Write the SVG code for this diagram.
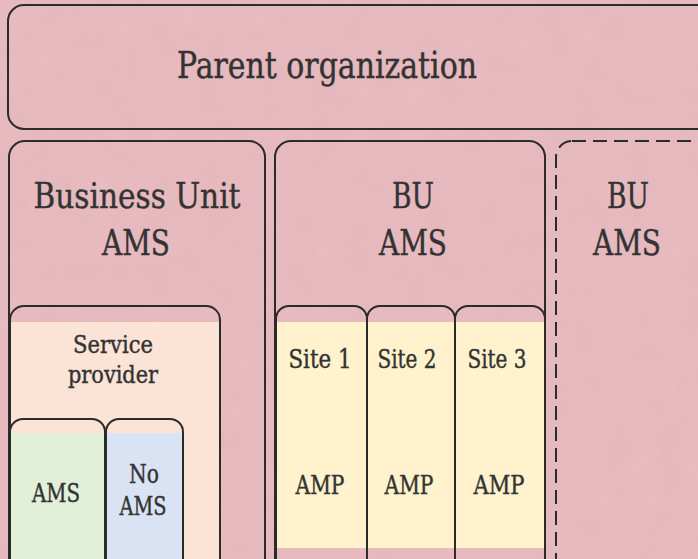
<svg xmlns="http://www.w3.org/2000/svg" width="698" height="559" viewBox="0 0 698 559">
<style>
.box{fill:none;stroke:#2b2b2b;stroke-width:2}
.dash{fill:none;stroke:#2b2b2b;stroke-width:2;stroke-dasharray:14 7}
text{font-family:"DejaVu Serif","Liberation Serif",serif;font-stretch:condensed;fill:#333;stroke:#333;stroke-width:0.4;text-anchor:middle}
.big{font-size:37px}
.mid{font-size:36px}
.sm{font-size:26px}
.sp{font-size:24px}
</style>
<defs>
<filter id="tex" x="0" y="0" width="100%" height="100%">
<feTurbulence type="fractalNoise" baseFrequency="0.035" numOctaves="3" seed="4"/>
<feColorMatrix type="matrix" values="0 0 0 0 0.6  0 0 0 0 0.35  0 0 0 0 0.4  0 0 0 0.35 0"/>
</filter>
</defs>
<rect width="698" height="559" fill="#e8bcc0"/>
<rect width="698" height="559" filter="url(#tex)" opacity="0.5"/>
<g id="parent">
<rect class="box" x="8" y="5" width="720" height="124" rx="16" stroke-width="2.5"/>
<text class="big" x="327" y="78" textLength="300" lengthAdjust="spacingAndGlyphs">Parent organization</text>
</g>
<g id="bu1">
<rect class="box" x="9" y="141" width="256" height="450" rx="16"/>
<text class="mid" x="137" y="208" textLength="207" lengthAdjust="spacingAndGlyphs">Business Unit</text>
<text class="mid" x="136" y="255" textLength="68" lengthAdjust="spacingAndGlyphs">AMS</text>
</g>
<g id="bu2">
<rect class="box" x="275" y="141" width="270" height="450" rx="16"/>
<text class="mid" x="413" y="208" textLength="42" lengthAdjust="spacingAndGlyphs">BU</text>
<text class="mid" x="413" y="255" textLength="68" lengthAdjust="spacingAndGlyphs">AMS</text>
</g>
<g id="bu3">
<rect class="dash" x="556" y="141" width="170" height="450" rx="16"/>
<text class="mid" x="628" y="208" textLength="42" lengthAdjust="spacingAndGlyphs">BU</text>
<text class="mid" x="627" y="255" textLength="68" lengthAdjust="spacingAndGlyphs">AMS</text>
</g>
<g id="service-provider">
<rect x="11" y="322" width="208" height="250" fill="#fbe3d6"/>
<rect class="box" x="10" y="306" width="210" height="280" rx="14"/>
<text class="sp" x="113" y="353" textLength="80" lengthAdjust="spacingAndGlyphs">Service</text>
<text class="sp" x="113" y="383" textLength="90" lengthAdjust="spacingAndGlyphs">provider</text>
</g>
<g id="ams">
<rect x="11" y="433" width="93" height="140" fill="#e2f0d9"/>
<rect class="box" x="10" y="419" width="95" height="170" rx="13"/>
<text class="sm" x="56" y="502" textLength="48" lengthAdjust="spacingAndGlyphs">AMS</text>
</g>
<g id="no-ams">
<rect x="107" y="433" width="75" height="140" fill="#dae3f3"/>
<rect class="box" x="106" y="419" width="77" height="170" rx="13"/>
<text class="sm" x="144" y="483" textLength="30" lengthAdjust="spacingAndGlyphs">No</text>
<text class="sm" x="143" y="515" textLength="47" lengthAdjust="spacingAndGlyphs">AMS</text>
</g>
<g id="site1">
<rect x="277" y="322" width="89" height="226" fill="#fff2cc"/>
<rect class="box" x="276" y="306" width="91" height="280" rx="13"/>
<text class="sm" x="320" y="368" textLength="63" lengthAdjust="spacingAndGlyphs">Site  1</text>
<text class="sm" x="320" y="494" textLength="49" lengthAdjust="spacingAndGlyphs">AMP</text>
</g>
<g id="site2">
<rect x="368" y="322" width="86" height="226" fill="#fff2cc"/>
<rect class="box" x="367" y="306" width="88" height="280" rx="13"/>
<text class="sm" x="407" y="368" textLength="59" lengthAdjust="spacingAndGlyphs">Site 2</text>
<text class="sm" x="409" y="494" textLength="49" lengthAdjust="spacingAndGlyphs">AMP</text>
</g>
<g id="site3">
<rect x="456" y="322" width="88" height="226" fill="#fff2cc"/>
<rect class="box" x="455" y="306" width="90" height="280" rx="13"/>
<text class="sm" x="497" y="368" textLength="59" lengthAdjust="spacingAndGlyphs">Site 3</text>
<text class="sm" x="499" y="494" textLength="51" lengthAdjust="spacingAndGlyphs">AMP</text>
</g>
<g id="connectors"/>
</svg>
